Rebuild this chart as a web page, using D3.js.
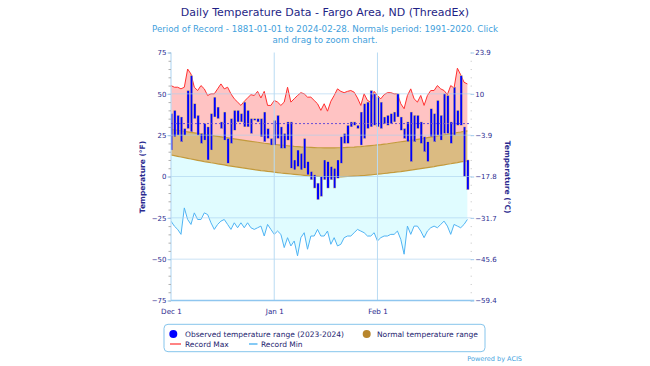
<!DOCTYPE html>
<html><head><meta charset="utf-8">
<script src="https://cdn.jsdelivr.net/npm/d3@7"></script>
<style>body{margin:0;background:#fff;} svg{display:block;font-family:"DejaVu Sans",sans-serif;}</style>
</head><body>
<svg id="chart" width="650" height="366"></svg>
<script>
// ---------- DATA (°F), one value per day starting Dec 1, 2023 ----------
const startDate = "2023-12-01";
const obsHigh = [38,40,37,36,29,52,61,44,37,26,32,30,38,48,42,33,39,23,35,40,40,38,45,40,35,35,35,35,39,29,
                 23,34,37,30,26,33,33,10,16,14,23,9,3,1,-4,0,10,9,6,5,10,24,26,31,33,33,31,39,44,45,
                 52,50,48,45,36,37,38,39,50,36,29,33,39,37,37,33,24,21,41,38,46,37,50,49,33,54,40,61,30,10];
const obsLow  = [16,24,25,21,25,29,27,35,25,20,22,10,16,36,35,29,22,8,20,28,33,33,30,30,26,34,33,24,21,23,
                 19,19,23,17,17,22,5,4,6,4,5,1,-2,-7,-14,-12,-2,-7,-2,-7,-1,8,20,20,30,31,29,19,23,29,
                 30,31,30,29,32,31,32,33,36,28,23,21,9,21,29,20,15,9,24,21,25,22,26,26,20,25,31,31,0,-8];
const normHigh = [28.5,28.2,27.9,27.6,27.3,27.0,26.7,26.4,26.1,25.8,25.5,25.2,24.9,24.6,24.3,24.0,23.7,23.4,23.1,22.8,
                  22.5,22.2,21.9,21.6,21.3,21.0,20.7,20.4,20.1,19.9,19.6,19.4,19.2,19.0,18.8,18.6,18.4,18.2,18.1,17.9,
                  17.8,17.7,17.6,17.5,17.4,17.4,17.3,17.3,17.3,17.3,17.4,17.4,17.5,17.6,17.7,17.8,18.0,18.1,18.3,18.5,
                  18.7,18.9,19.1,19.3,19.6,19.8,20.1,20.4,20.7,21.0,21.3,21.6,21.9,22.2,22.5,22.8,23.1,23.5,23.8,24.1,
                  24.5,24.8,25.2,25.5,25.9,26.2,26.6,26.9,27.3,27.6];
const normLow  = [13.0,12.6,12.2,11.8,11.4,11.0,10.6,10.2,9.8,9.4,9.0,8.7,8.3,8.0,7.6,7.3,7.0,6.6,6.3,6.0,
                  5.7,5.4,5.1,4.8,4.5,4.2,3.9,3.6,3.4,3.1,2.9,2.6,2.4,2.1,1.9,1.7,1.5,1.3,1.1,0.9,
                  0.7,0.5,0.4,0.2,0.1,0.0,-0.1,-0.2,-0.2,-0.2,-0.2,-0.2,-0.1,0.0,0.1,0.2,0.3,0.5,0.6,0.8,
                  1.0,1.2,1.4,1.6,1.8,2.0,2.3,2.5,2.8,3.0,3.3,3.6,3.9,4.2,4.5,4.8,5.1,5.4,5.7,6.0,
                  6.4,6.7,7.0,7.4,7.7,8.1,8.4,8.8,9.1,9.5];
const recMax = [55,54,54,53,54,65,62,54,52,55,53,49,50,50,53,56,53,54,50,47,45,43,45.5,47.5,49.5,49,51.5,47.5,51.5,43,
                43,46,45,43,45,54,45,47,49,50.7,50,48,48,46,44,40,44,39.5,45.5,49,53,51.5,50.7,51.5,52,51,47.5,43,50,46,
                45,51.5,49,47,49.5,50.7,50.7,50,50,44,41,49,53,47,45,49,43,49,52,52,55,53,52,49.5,55,53.5,65.5,61.5,57,56];
const recMin = [-27,-30,-32,-35,-19,-26,-29,-22,-26,-26,-22,-23,-28,-32,-29,-27,-26,-29,-32,-28,-31,-28,-31,-28,-31,-32,-31,-30,-36,-29,
                -32,-35,-33,-35,-43,-37,-42,-39,-48,-37,-34,-44,-36,-36,-32,-36,-36,-33,-41,-37,-42,-41,-37,-36,-36,-34,-32,-33,-34,-36,
                -36,-34,-39,-37,-36,-36,-35,-35,-33,-38,-47,-30,-35,-30,-30,-33,-37,-33,-31,-30,-31,-29,-27,-30,-35,-29,-30,-31,-29,-26];
const freezing = 32;
const xTickDates = ["2023-12-01","2024-01-01","2024-02-01"];
const xTickLabels = ["Dec 1","Jan 1","Feb 1"];
const yTicksF = [-75,-50,-25,0,25,50,75];
const yTicksC = ["-59.4","-45.6","-31.7","-17.8","-3.9","10","23.9"];
const titleText = "Daily Temperature Data - Fargo Area, ND (ThreadEx)";
const subtitleLines = ["Period of Record - 1881-01-01 to 2024-02-28. Normals period: 1991-2020. Click","and drag to zoom chart."];
const legendItems = ["Observed temperature range (2023-2024)","Normal temperature range","Record Max","Record Min"];

// ---------- BUILD ----------
const parse = d3.utcParse("%Y-%m-%d");
const t0 = parse(startDate);
const days = obsHigh.map((v,i)=>({
  date: d3.utcDay.offset(t0,i), hi:v, lo:obsLow[i], nh:normHigh[i], nl:normLow[i], rmax:recMax[i], rmin:recMin[i]
}));

const svg = d3.select("#chart");
const L=171, R=470.7, T=52.5, B=300.5;
const x = d3.scaleUtc().domain([t0, parse("2024-02-29")]).range([L,R]);
const y = d3.scaleLinear().domain([-75,75]).range([B,T]);

const navy="#2b2b8f";
// title
svg.append("text").attr("x",325).attr("y",16).attr("text-anchor","middle")
  .attr("font-size",11).attr("fill","#1f1f86").text(titleText);
subtitleLines.forEach((s,i)=>svg.append("text").attr("x",325).attr("y",31.5+i*11)
  .attr("text-anchor","middle").attr("font-size",8.7).attr("fill","#3f9fdc").text(s));

const defs = svg.append("defs");
defs.append("clipPath").attr("id","clip").append("rect").attr("x",L).attr("y",T).attr("width",R-L).attr("height",B-T);
const plot = svg.append("g").attr("clip-path","url(#clip)");

// bands
const area = (a,b)=>d3.area().x(d=>x(d.date)).y0(d=>y(d[a])).y1(d=>y(d[b]));
plot.append("path").datum(days).attr("d",area("rmin","nl")).attr("fill","#e0fcff");
plot.append("path").datum(days).attr("d",area("nh","rmax")).attr("fill","#ffc3c3");
plot.append("path").datum(days).attr("d",area("nl","nh")).attr("fill","#dbbb82");

// grid
const gridG = svg.append("g");
gridG.selectAll("line.h").data(yTicksF.filter(v=>v>-75&&v<75)).join("line")
  .attr("x1",L).attr("x2",R).attr("y1",d=>y(d)).attr("y2",d=>y(d))
  .attr("stroke","#a9d0ee").attr("stroke-opacity",0.6).attr("stroke-width",1);
gridG.selectAll("line.v").data(xTickDates.slice(1).map(parse)).join("line")
  .attr("x1",d=>x(d)).attr("x2",d=>x(d)).attr("y1",T).attr("y2",B)
  .attr("stroke","#b9dbf3").attr("stroke-width",1);
// left axis line & bottom line
svg.append("line").attr("x1",L).attr("x2",L).attr("y1",T).attr("y2",B).attr("stroke","#b9dbf3").attr("stroke-width",1.2);
svg.append("line").attr("x1",L).attr("x2",R+3.5).attr("y1",B).attr("y2",B).attr("stroke","#8fc6ef").attr("stroke-width",1.5);

// normal boundary lines
const line = k=>d3.line().x(d=>x(d.date)).y(d=>y(d[k]));
plot.append("path").datum(days).attr("d",line("nh")).attr("fill","none").attr("stroke","#c39a3c").attr("stroke-width",1.2);
plot.append("path").datum(days).attr("d",line("nl")).attr("fill","none").attr("stroke","#c39a3c").attr("stroke-width",1.2);

// freezing line
svg.append("line").attr("x1",L).attr("x2",R).attr("y1",y(freezing)).attr("y2",y(freezing))
  .attr("stroke","#6a4fd6").attr("stroke-width",1).attr("stroke-dasharray","2,2");

// record lines
plot.append("path").datum(days).attr("d",line("rmax")).attr("fill","none").attr("stroke","#ff3030").attr("stroke-width",1);
plot.append("path").datum(days).attr("d",line("rmin")).attr("fill","none").attr("stroke","#4fb3f3").attr("stroke-width",1);

// observed bars
const bw=2.4;
plot.selectAll("rect.obs").data(days).join("rect")
  .attr("x",d=>x(d.date)+0.5-bw/2).attr("width",bw)
  .attr("y",d=>y(d.hi)).attr("height",d=>Math.max(1,y(d.lo)-y(d.hi)))
  .attr("fill","#0000ff").attr("stroke","#f2d36a").attr("stroke-width",0.4);

// axes
const fmt = v=> v<0 ? "\u2212"+Math.abs(v) : String(v);
const minor = d3.range(-75,76,5);
svg.append("g").attr("transform",`translate(${L},0)`)
  .call(d3.axisLeft(y).tickValues(minor).tickSize(2.5).tickFormat(""))
  .call(g=>{g.select(".domain").remove();g.selectAll("line").attr("stroke","#b0b0b0");});
svg.append("g").attr("transform",`translate(${R},0)`)
  .call(d3.axisRight(y).tickValues(minor).tickSize(2).tickFormat(""))
  .call(g=>{g.select(".domain").remove();g.selectAll("line").attr("stroke","#c0c0c0").attr("stroke-dasharray","1,1");});
svg.append("g").attr("transform",`translate(${L},0)`)
  .call(d3.axisLeft(y).tickValues(yTicksF).tickSize(3.5).tickPadding(1).tickFormat(fmt))
  .call(g=>{g.select(".domain").remove();g.selectAll("line").attr("stroke","#9fcbee");
    g.selectAll("text").attr("font-size",7).attr("fill",navy).attr("font-family","DejaVu Sans");});
svg.append("g").attr("transform",`translate(${R},0)`)
  .call(d3.axisRight(y).tickValues(yTicksF).tickSize(3.5).tickPadding(1).tickFormat((d,i)=>yTicksC[i].replace("-","\u2212")))
  .call(g=>{g.select(".domain").remove();g.selectAll("line").attr("stroke","#9fcbee");
    g.selectAll("text").attr("font-size",7).attr("fill",navy).attr("font-family","DejaVu Sans");});
svg.append("g").attr("transform",`translate(0,${B})`)
  .call(d3.axisBottom(x).tickValues(xTickDates.map(parse)).tickSize(0).tickPadding(8.5).tickFormat((d,i)=>xTickLabels[i]))
  .call(g=>{g.select(".domain").remove();
    g.selectAll("text").attr("font-size",7.2).attr("fill",navy).attr("font-family","DejaVu Sans");});

// axis titles
svg.append("text").attr("transform","translate(145,177) rotate(-90)").attr("text-anchor","middle")
  .attr("font-size",7.5).attr("font-weight","bold").attr("fill",navy).text("Temperature (°F)");
svg.append("text").attr("transform","translate(505,177) rotate(90)").attr("text-anchor","middle")
  .attr("font-size",7.5).attr("font-weight","bold").attr("fill",navy).text("Temperature (°C)");

// legend
const lg = svg.append("g");
lg.append("rect").attr("x",164).attr("y",324.3).attr("width",321).attr("height",27.4).attr("rx",4)
  .attr("fill","#fff").attr("stroke","#86c5ec").attr("stroke-width",1);
const lc="#23236e";
lg.append("circle").attr("cx",173.3).attr("cy",334).attr("r",4).attr("fill","#0000ff");
lg.append("text").attr("x",185).attr("y",337.3).attr("font-size",7.5).attr("fill",lc).text(legendItems[0]);
lg.append("circle").attr("cx",366.7).attr("cy",334).attr("r",4).attr("fill","#b8862c");
lg.append("text").attr("x",377).attr("y",337.3).attr("font-size",7.5).attr("fill",lc).text(legendItems[1]);
lg.append("line").attr("x1",170).attr("x2",181).attr("y1",344).attr("y2",344).attr("stroke","#ff5a5a").attr("stroke-width",1.5);
lg.append("text").attr("x",185).attr("y",347).attr("font-size",7.5).attr("fill",lc).text(legendItems[2]);
lg.append("line").attr("x1",249).attr("x2",257.5).attr("y1",344).attr("y2",344).attr("stroke","#5cb8f2").attr("stroke-width",1.5);
lg.append("text").attr("x",261).attr("y",347).attr("font-size",7.5).attr("fill",lc).text(legendItems[3]);

// credits
svg.append("text").attr("x",522).attr("y",361).attr("text-anchor","end").attr("font-size",6.5)
  .attr("fill","#45a3e0").text("Powered by ACIS");
</script>
</body></html>
